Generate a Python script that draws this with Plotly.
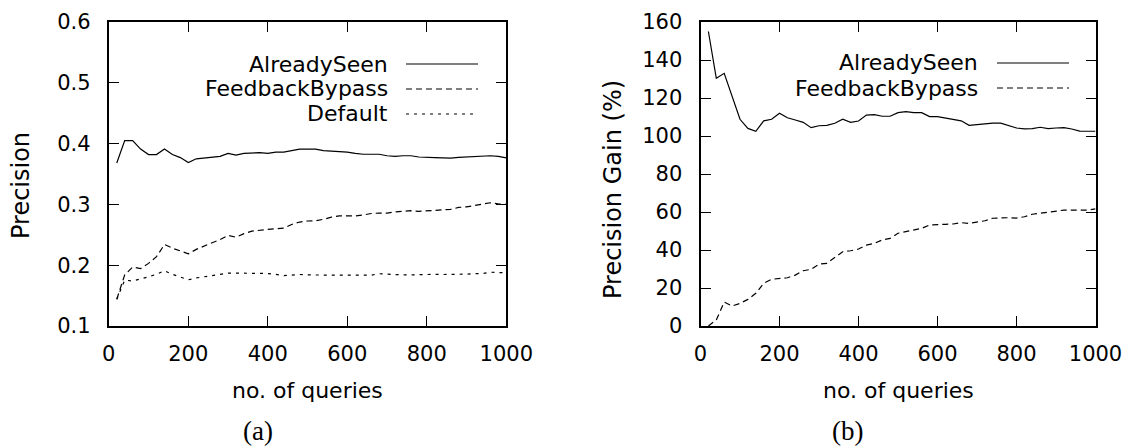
import plotly.graph_objects as go

# ---------------- data ----------------
queries = [20, 40, 60, 80, 100, 120, 140, 160, 180, 200,
           220, 240, 260, 280, 300, 320, 340, 360, 380, 400,
           420, 440, 460, 480, 500, 520, 540, 560, 580, 600,
           620, 640, 660, 680, 700, 720, 740, 760, 780, 800,
           820, 840, 860, 880, 900, 920, 940, 960, 980, 1000]

prec_already_seen = [0.368, 0.405, 0.405, 0.391, 0.382, 0.382, 0.391, 0.382, 0.377, 0.369,
                     0.375, 0.376, 0.377, 0.379, 0.384, 0.381, 0.384, 0.385, 0.385, 0.384,
                     0.386, 0.386, 0.389, 0.391, 0.391, 0.391, 0.3885, 0.388, 0.387, 0.386,
                     0.384, 0.3825, 0.3825, 0.3825, 0.380, 0.379, 0.380, 0.380, 0.378, 0.377,
                     0.377, 0.3765, 0.376, 0.3775, 0.378, 0.379, 0.379, 0.380, 0.379, 0.3765]

prec_feedback_bypass = [0.144, 0.184, 0.197, 0.1945, 0.203, 0.214, 0.234, 0.228, 0.2235, 0.2186,
                        0.226, 0.232, 0.237, 0.242, 0.249, 0.246, 0.252, 0.256, 0.258, 0.259,
                        0.260, 0.261, 0.267, 0.271, 0.2727, 0.273, 0.2755, 0.279, 0.281, 0.281,
                        0.281, 0.2825, 0.285, 0.2858, 0.2858, 0.2875, 0.289, 0.2896, 0.2885, 0.289,
                        0.290, 0.291, 0.2918, 0.295, 0.296, 0.2984, 0.3005, 0.3027, 0.301, 0.300]

prec_default = [0.144, 0.1754, 0.174, 0.177, 0.181, 0.185, 0.191, 0.185, 0.180, 0.176,
                0.179, 0.181, 0.183, 0.185, 0.187, 0.187, 0.187, 0.186, 0.186, 0.1863,
                0.185, 0.183, 0.1836, 0.1847, 0.184, 0.1836, 0.1836, 0.1836, 0.1836, 0.1836,
                0.1836, 0.1836, 0.1836, 0.186, 0.185, 0.184, 0.184, 0.184, 0.1847, 0.1847,
                0.185, 0.1847, 0.1847, 0.185, 0.1853, 0.186, 0.1863, 0.1885, 0.1885, 0.1874]

gain_already_seen = [155, 130.4, 133, 120.7, 108.8, 104, 102.5, 108, 108.8, 112,
                     109.6, 108.4, 107.2, 104.4, 105.4, 105.6, 106.7, 108.8, 107.2, 107.9,
                     111, 111.2, 110.4, 110.4, 112.3, 112.8, 112.3, 112.3, 110.2, 110.2,
                     109.5, 108.8, 108, 105.6, 106.1, 106.5, 106.8, 106.8, 105.6, 104.2,
                     103.7, 103.9, 104.6, 103.9, 104.2, 104.4, 103.7, 102.6, 102.5, 102.5]

gain_feedback_bypass = [0, 3.2, 12.6, 10.5, 11.9, 14, 17.2, 22.5, 24.6, 25.1,
                        25.4, 26.8, 29.1, 29.8, 32.6, 33, 36, 39.1, 39.6, 40.5,
                        42.6, 43.5, 45.3, 46.1, 48.8, 49.6, 50.5, 51.4, 53.2, 53.5,
                        53.5, 53.7, 54.4, 54, 54.6, 55.4, 56.7, 57, 57, 56.8,
                        57.5, 58.8, 59.3, 59.8, 60.5, 61, 61, 61, 61, 61.6]

x_ticks = [0, 200, 400, 600, 800, 1000]
prec_ticks = [0.1, 0.2, 0.3, 0.4, 0.5, 0.6]
gain_ticks = [0, 20, 40, 60, 80, 100, 120, 140, 160]

# ---------------- styling ----------------
W, H = 1131, 448
OFF = 8  # page body margin of the browser
SANS = "DejaVu Sans"
SERIF = "Liberation Serif"
FS = 21
LEG_FS = 22
DASH_FB = "6px,4px"
DASH_DEF = "3px,5px"
LW = 1.2


def px(x):
    return (x - OFF) / W


def py(y):
    return 1 - (y - OFF) / H


fig = go.Figure()

# panel (a)
fig.add_trace(go.Scatter(x=queries, y=prec_already_seen, mode="lines", name="AlreadySeen",
                         line=dict(color="black", width=LW), xaxis="x", yaxis="y"))
fig.add_trace(go.Scatter(x=queries, y=prec_feedback_bypass, mode="lines", name="FeedbackBypass",
                         line=dict(color="black", width=LW, dash=DASH_FB), xaxis="x", yaxis="y"))
fig.add_trace(go.Scatter(x=queries, y=prec_default, mode="lines", name="Default",
                         line=dict(color="black", width=LW, dash=DASH_DEF), xaxis="x", yaxis="y"))
# panel (b)
fig.add_trace(go.Scatter(x=queries, y=gain_already_seen, mode="lines", name="AlreadySeen",
                         line=dict(color="black", width=LW), xaxis="x2", yaxis="y2"))
fig.add_trace(go.Scatter(x=queries, y=gain_feedback_bypass, mode="lines", name="FeedbackBypass",
                         line=dict(color="black", width=LW, dash=DASH_FB), xaxis="x2", yaxis="y2"))

axis_common = dict(
    showline=True, linecolor="black", linewidth=2, mirror="ticks",
    ticks="inside", ticklen=10, tickwidth=1.2, tickcolor="black",
    showgrid=False, zeroline=False, automargin=False,
    tickfont=dict(family=SANS, size=FS, color="black"),
)

ydom = [py(326), py(22)]
fig.update_layout(
    width=W, height=H,
    margin=dict(l=0, r=0, t=0, b=0, autoexpand=False),
    paper_bgcolor="white", plot_bgcolor="white",
    showlegend=False,
    xaxis=dict(domain=[px(108.8), px(506.3)], range=[0, 1000], tickvals=x_ticks,
               anchor="y", ticklabelstandoff=8, **axis_common),
    yaxis=dict(domain=ydom, range=[0.1, 0.6], tickvals=prec_ticks, tickformat=".1f",
               anchor="x", ticklabelstandoff=12, **axis_common),
    xaxis2=dict(domain=[px(700.5), px(1095.5)], range=[0, 1000], tickvals=x_ticks,
                anchor="y2", ticklabelstandoff=8, **axis_common),
    yaxis2=dict(domain=ydom, range=[0, 160], tickvals=gain_ticks,
                anchor="x2", ticklabelstandoff=12, **axis_common),
)

annotations = []
shapes = []


def label(text, x, y, size=FS, family=SANS, xanchor="center", angle=0):
    annotations.append(dict(text=text, x=px(x), y=py(y), xref="paper", yref="paper",
                            xanchor=xanchor, yanchor="middle", showarrow=False,
                            textangle=angle, font=dict(family=family, size=size, color="black")))


def sample(x0, x1, y, dash):
    shapes.append(dict(type="line", xref="paper", yref="paper",
                       x0=px(x0), x1=px(x1), y0=py(y), y1=py(y),
                       line=dict(color="black", width=LW, dash=dash)))


# axis titles
label("no. of queries", 307.5, 390, size=22)
label("no. of queries", 898, 390, size=22)
label("Precision", 21, 186, size=24, angle=-90)
label("Precision Gain (%)", 613, 190, size=24, angle=-90)
# sub-captions
label("(a)", 258, 431, size=27, family=SERIF)
label("(b)", 847, 431, size=27, family=SERIF)

# legends (a)
leg_rows = [64, 89, 114]
label("AlreadySeen", 390, leg_rows[0], size=LEG_FS, xanchor="right")
label("FeedbackBypass", 390, leg_rows[1], size=LEG_FS, xanchor="right")
label("Default", 390, leg_rows[2], size=LEG_FS, xanchor="right")
sample(406, 478, leg_rows[0], "solid")
sample(406, 478, leg_rows[1], DASH_FB)
sample(406, 478, leg_rows[2], DASH_DEF)
# legends (b)
label("AlreadySeen", 980, leg_rows[0] - 1, size=LEG_FS, xanchor="right")
label("FeedbackBypass", 980, leg_rows[1] - 1, size=LEG_FS, xanchor="right")
sample(997, 1069, leg_rows[0] - 1, "solid")
sample(997, 1069, leg_rows[1] - 1, DASH_FB)

fig.update_layout(annotations=annotations, shapes=shapes)
fig.write_html("out.html")
